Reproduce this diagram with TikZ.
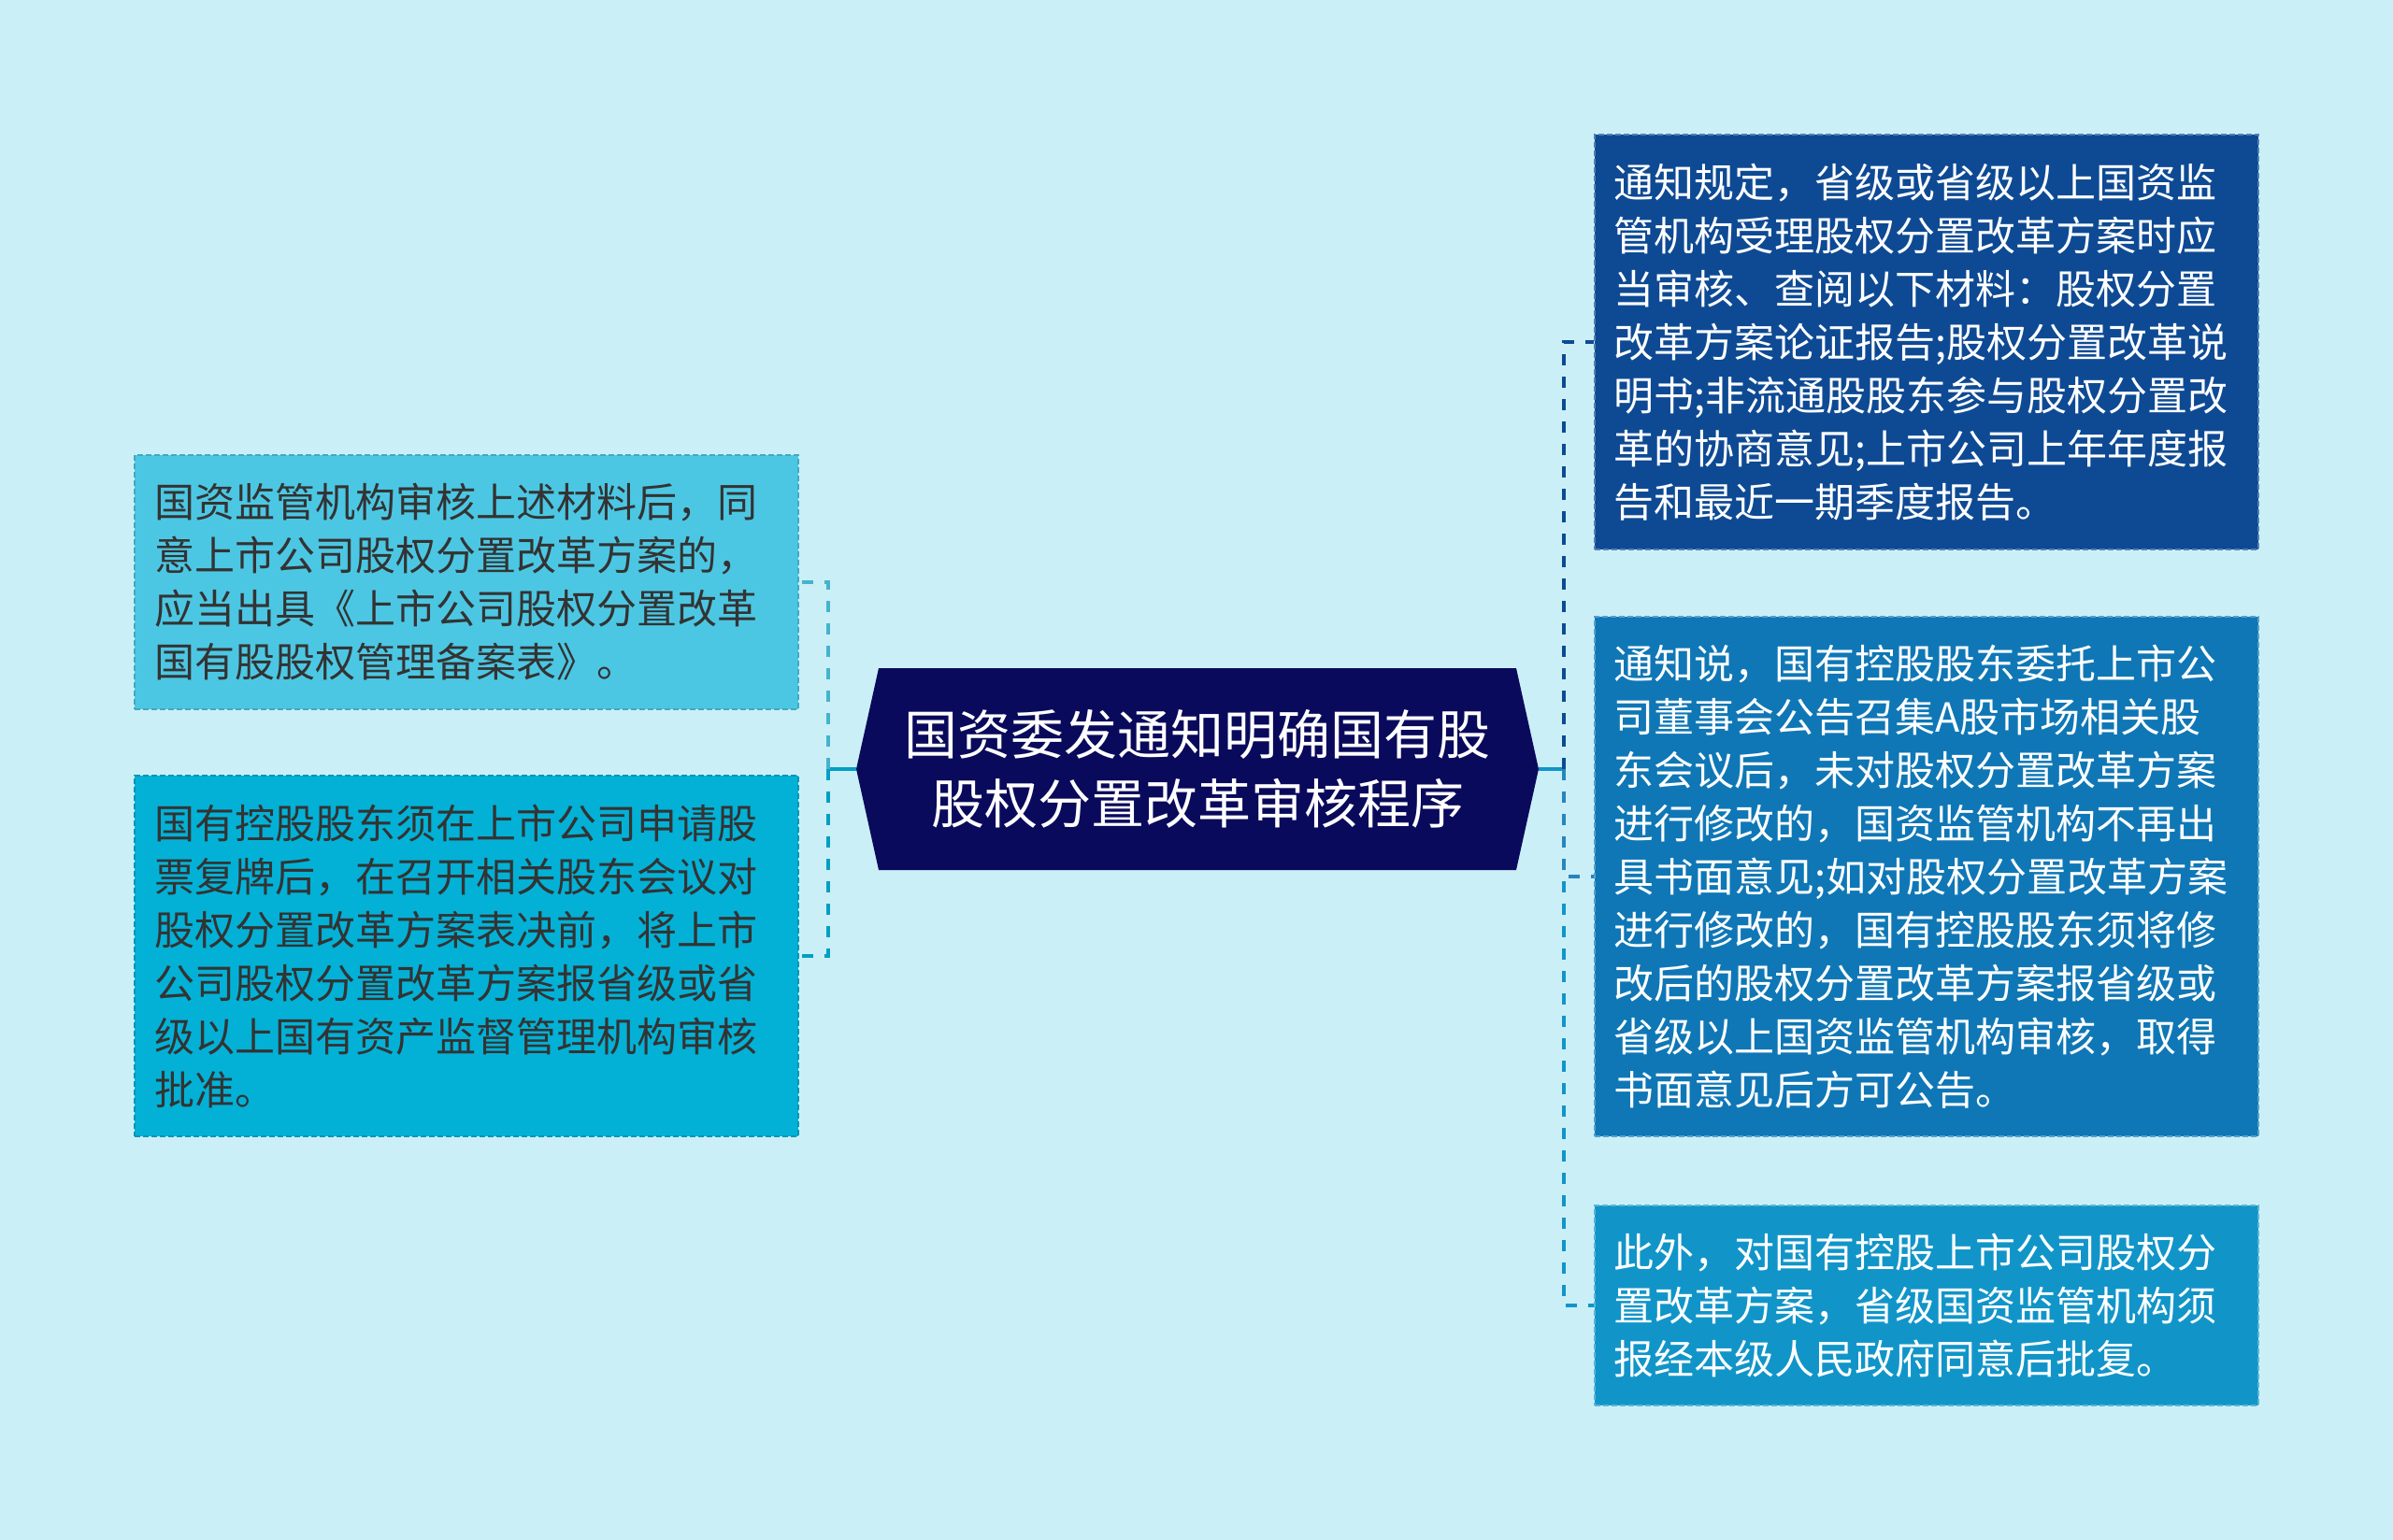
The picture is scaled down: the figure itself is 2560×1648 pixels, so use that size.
\documentclass[tikz,border=0pt]{standalone}
\usepackage{fontspec}
\setmainfont{Noto Sans CJK SC}
\usetikzlibrary{calc}
\definecolor{bg}{HTML}{CBEFF7}
\definecolor{navy}{HTML}{0A0A5C}
\definecolor{rA}{HTML}{0E4A94}
\definecolor{rB}{HTML}{0F77B6}
\definecolor{rC}{HTML}{1195C9}
\definecolor{lA}{HTML}{4CC7E3}
\definecolor{lB}{HTML}{03B1D6}
\definecolor{ltext}{HTML}{333333}
\begin{document}
\begin{tikzpicture}[x=0.5pt,y=-0.5pt,
  leaf/.style={rectangle, draw, dash pattern=on 3pt off 1.5pt, line width=1pt,
    text width=334pt, inner xsep=10.5pt, inner ysep=0pt, minimum width=355pt,
    align=left, font=\fontsize{21.5pt}{28.5pt}\selectfont},
  rleaf/.style={leaf, text=white},
  lleaf/.style={leaf, text=ltext},
  link/.style={line width=2pt, dash pattern=on 6pt off 6pt},
  stub/.style={line width=2pt},
  root/.style={rectangle, minimum width=365pt, minimum height=108pt, inner sep=0pt,
    text=white, align=center, font=\fontsize{28.5pt}{36.75pt}\selectfont}]
\fill[bg] (0,0) rectangle (2560,1648);
\useasboundingbox (0,0) rectangle (2560,1648);
% central hexagon
\fill[navy] (916,823) -- (940,715) -- (1622,715) -- (1646,823) -- (1622,931) -- (940,931) -- cycle;
\node[root] (c) at (1281,823) {国资委发通知明确国有股\\股权分置改革审核程序};
% left leaves
\node[lleaf, fill=lA, draw=lA!85!black, minimum height=136pt] (l1) at (499,623)
 {国资监管机构审核上述材料后，同\\意上市公司股权分置改革方案的，\\应当出具《上市公司股权分置改革\\国有股股权管理备案表》。};
\node[lleaf, fill=lB, draw=lB!85!black, minimum height=193pt] (l2) at (499,1023)
 {国有控股股东须在上市公司申请股\\票复牌后，在召开相关股东会议对\\股权分置改革方案表决前，将上市\\公司股权分置改革方案报省级或省\\级以上国有资产监督管理机构审核\\批准。};
% right leaves
\node[rleaf, fill=rA, draw=rA!70!white, minimum height=222pt] (r1) at (2060.5,366)
 {通知规定，省级或省级以上国资监\\管机构受理股权分置改革方案时应\\当审核、查阅以下材料：股权分置\\改革方案论证报告;股权分置改革说\\明书;非流通股股东参与股权分置改\\革的协商意见;上市公司上年年度报\\告和最近一期季度报告。};
\node[rleaf, fill=rB, draw=rB!70!white, minimum height=278pt] (r2) at (2060.5,938)
 {通知说，国有控股股东委托上市公\\司董事会公告召集A股市场相关股\\东会议后，未对股权分置改革方案\\进行修改的，国资监管机构不再出\\具书面意见;如对股权分置改革方案\\进行修改的，国有控股股东须将修\\改后的股权分置改革方案报省级或\\省级以上国资监管机构审核，取得\\书面意见后方可公告。};
\node[rleaf, fill=rC, draw=rC!70!white, minimum height=107pt] (r3) at (2060.5,1397)
 {此外，对国有控股上市公司股权分\\置改革方案，省级国资监管机构须\\报经本级人民政府同意后批复。};
% connectors
\coordinate (jl) at (886,823);
\coordinate (jr) at (1673,823);
\draw[stub, lB!90!black] (c.west) -- (jl);
\draw[link, lA!90!black] (jl) |- (l1.east);
\draw[link, lB!90!black] (jl) |- (l2.east);
\draw[stub, rC] (c.east) -- (jr);
\draw[link, rA] (jr) |- (r1.west);
\draw[link, rC] (jr) |- (r3.west);
\draw[link, rB!90!white] (jr) |- (r2.west);
\end{tikzpicture}
\end{document}
